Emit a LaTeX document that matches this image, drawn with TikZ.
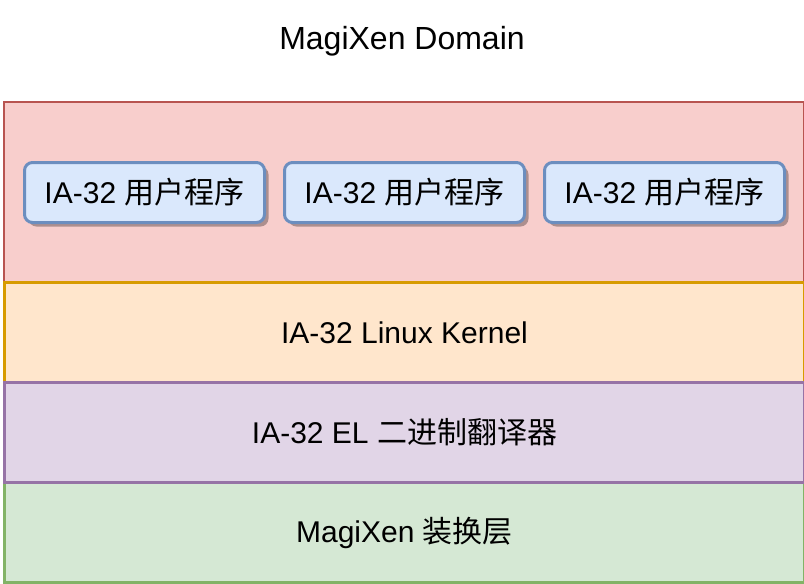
\documentclass[tikz,border=0pt]{standalone}
\usepackage{fontspec}
\setmainfont{Liberation Sans}
\newfontfamily\cjk{Noto Sans CJK SC}
\usetikzlibrary{shadows}
\definecolor{redfill}{HTML}{F8CECC}\definecolor{redline}{HTML}{B85450}
\definecolor{orfill}{HTML}{FFE6CC}\definecolor{orline}{HTML}{D79B00}
\definecolor{pufill}{HTML}{E1D5E7}\definecolor{puline}{HTML}{9673A6}
\definecolor{grfill}{HTML}{D5E8D4}\definecolor{grline}{HTML}{82B366}
\definecolor{blfill}{HTML}{DAE8FC}\definecolor{blline}{HTML}{6C8EBF}
\tikzset{
  lbl/.style={font=\fontsize{32}{36}\selectfont, inner sep=0pt},
  band/.style={draw, line width=3pt, minimum width=800pt, minimum height=100pt, inner sep=0pt, anchor=north west, font=\fontsize{30}{34}\selectfont},
  prog/.style={draw=blline, fill=blfill, line width=3pt, rounded corners=8pt, minimum width=240pt, minimum height=60pt, inner sep=0pt, anchor=north west, font=\fontsize{30}{34}\selectfont,
    drop shadow={shadow xshift=4pt, shadow yshift=-4pt, fill=black, opacity=0.3}},
}
\begin{document}
\begin{tikzpicture}[x=1pt,y=-1pt]
\useasboundingbox (0,0) rectangle (804,584);
\node[lbl] (title) at (402,41) {MagiXen Domain};
\node[draw=redline, fill=redfill, line width=1.5pt, minimum width=800pt, minimum height=180pt, inner sep=0pt, anchor=north west] (dom) at (3,101) {};
\node[prog] (p1) at (23,161) {IA-32 {\cjk 用户程序}};
\node[prog] (p2) at (283,161) {IA-32 {\cjk 用户程序}};
\node[prog] (p3) at (543,161) {IA-32 {\cjk 用户程序}};
\node[band, draw=orline, fill=orfill] (kern) at (3,281) {IA-32 Linux Kernel};
\node[band, draw=grline, fill=grfill] (xlay) at (3,481) {MagiXen {\cjk 装换层}};
\node[band, draw=puline, fill=pufill] (el) at (3,381) {IA-32 EL {\cjk 二进制翻译器}};
\end{tikzpicture}
\end{document}
